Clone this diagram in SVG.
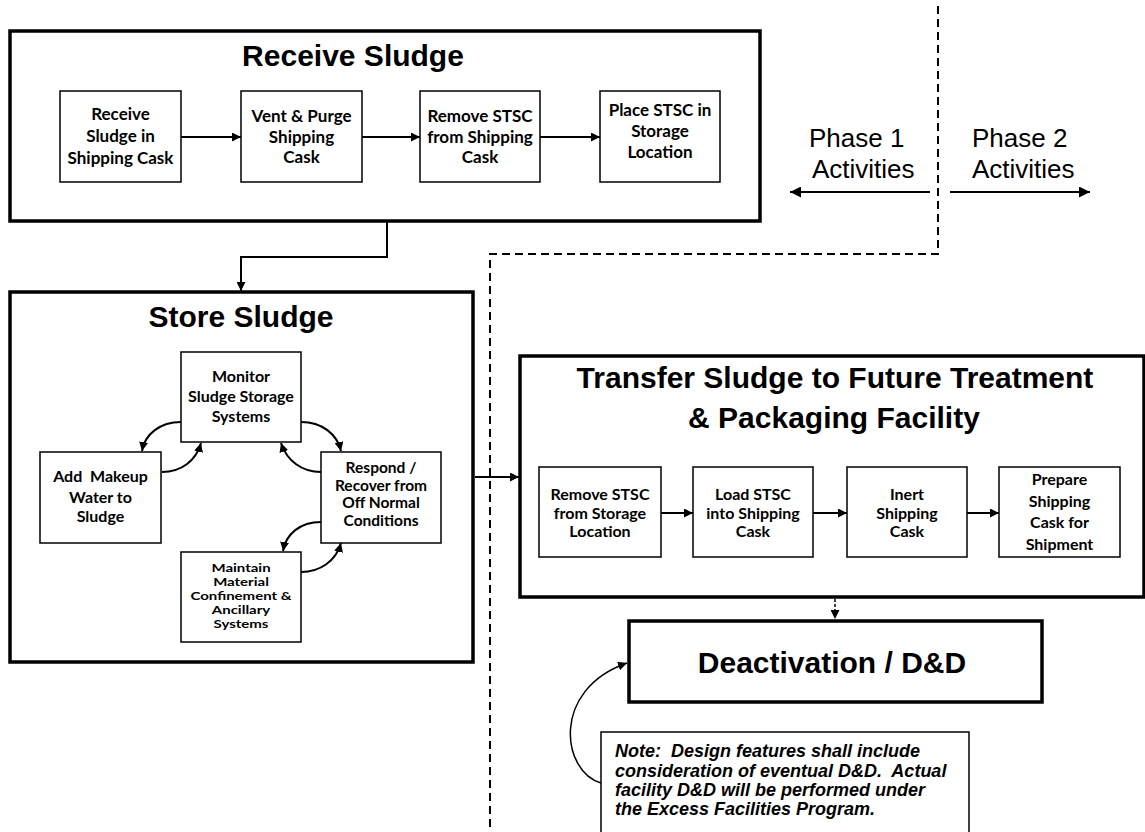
<svg xmlns="http://www.w3.org/2000/svg" width="1145" height="832" viewBox="0 0 1145 832">
<defs>
<style>
.outer{fill:#fff;stroke:#000;stroke-width:3.5}
.inner{fill:#fff;stroke:#000;stroke-width:1.5}
.title{font-family:"Liberation Sans",Arial,sans-serif;font-weight:700;font-size:30px;fill:#000;text-anchor:middle}
.lbl{font-family:Lato,"Liberation Sans",sans-serif;font-weight:700;font-size:17px;fill:#000;text-anchor:middle}
.s16{font-size:16px}
.s155{font-size:15.5px}
.s14{font-size:15px}
.phase{font-family:"Liberation Sans",Arial,sans-serif;font-size:26px;fill:#000}
.note{font-family:"Liberation Sans",Arial,sans-serif;font-weight:700;font-style:italic;font-size:18px;fill:#000}
.conn{fill:none;stroke:#000;stroke-width:2}
.dash{fill:none;stroke:#000;stroke-width:2;stroke-dasharray:8 5}
.dot{fill:none;stroke:#000;stroke-width:1.5;stroke-dasharray:3 2}
</style>
<marker id="ah" viewBox="0 0 10 10" refX="10" refY="5" markerUnits="userSpaceOnUse" markerWidth="9" markerHeight="9" orient="auto">
<path d="M0,0 L10,5 L0,10 z" fill="#000"/>
</marker>
<marker id="ahl" viewBox="0 0 10 10" refX="10" refY="5" markerUnits="userSpaceOnUse" markerWidth="11" markerHeight="11" orient="auto">
<path d="M0,0 L10,5 L0,10 z" fill="#000"/>
</marker>
</defs>
<rect width="1145" height="832" fill="#fff"/>

<g id="phase-boundary">
<path class="dash" d="M938,6 V254 H490 V832"/>
</g>

<g id="receive-sludge">
<rect class="outer" x="10" y="31" width="750" height="190"/>
<text class="title" x="353" y="66">Receive Sludge</text>
</g>
<g id="r1"><rect class="inner" x="60" y="91" width="121" height="91"/>
<text class="lbl" x="120.5" y="120">Receive</text><text class="lbl" x="120.5" y="142">Sludge in</text><text class="lbl" x="120.5" y="164">Shipping Cask</text></g>
<g id="r2"><rect class="inner" x="241" y="91" width="121" height="91"/>
<text class="lbl" x="301.5" y="122">Vent &amp; Purge</text><text class="lbl" x="301.5" y="143">Shipping</text><text class="lbl" x="301.5" y="163">Cask</text></g>
<g id="r3"><rect class="inner" x="420" y="91" width="120" height="91"/>
<text class="lbl" x="480" y="122">Remove STSC</text><text class="lbl" x="480" y="143">from Shipping</text><text class="lbl" x="480" y="163">Cask</text></g>
<g id="r4"><rect class="inner" x="600" y="91" width="120" height="91"/>
<text class="lbl" x="660" y="116">Place STSC in</text><text class="lbl" x="660" y="137">Storage</text><text class="lbl" x="660" y="158">Location</text></g>

<g id="store-sludge">
<rect class="outer" x="10" y="292" width="463" height="370"/>
<text class="title" x="241" y="327">Store Sludge</text>
</g>
<g id="s-monitor"><rect class="inner" x="181" y="352" width="120" height="90"/>
<text class="lbl s16" x="241" y="382">Monitor</text><text class="lbl s16" x="241" y="402">Sludge Storage</text><text class="lbl s16" x="241" y="422">Systems</text></g>
<g id="s-add"><rect class="inner" x="40" y="452" width="121" height="91"/>
<text class="lbl s16" x="100.5" y="482" xml:space="preserve">Add  Makeup</text><text class="lbl s16" x="100.5" y="503">Water to</text><text class="lbl s16" x="100.5" y="522">Sludge</text></g>
<g id="s-respond"><rect class="inner" x="321" y="452" width="120" height="91"/>
<text class="lbl s155" x="381" y="473">Respond /</text><text class="lbl s155" x="381" y="491">Recover from</text><text class="lbl s155" x="381" y="508">Off Normal</text><text class="lbl s155" x="381" y="526">Conditions</text></g>
<g id="s-maintain"><rect class="inner" x="181" y="552" width="120" height="90"/>
<g transform="translate(241,600) scale(1,0.76)">
<text class="lbl s14" x="0" y="-36.8">Maintain</text><text class="lbl s14" x="0" y="-18.4">Material</text><text class="lbl s14" x="0" y="0">Confinement &amp;</text><text class="lbl s14" x="0" y="18.4">Ancillary</text><text class="lbl s14" x="0" y="36.8">Systems</text>
</g></g>

<g id="transfer-sludge">
<rect class="outer" x="520" y="356" width="624" height="241"/>
<text class="title" x="835" y="388">Transfer Sludge to Future Treatment</text>
<text class="title" x="834" y="428">&amp; Packaging Facility</text>
</g>
<g id="t1"><rect class="inner" x="539" y="467" width="122" height="90"/>
<text class="lbl s16" x="600" y="500">Remove STSC</text><text class="lbl s16" x="600" y="519">from Storage</text><text class="lbl s16" x="600" y="537">Location</text></g>
<g id="t2"><rect class="inner" x="693" y="467" width="120" height="90"/>
<text class="lbl s16" x="753" y="500">Load STSC</text><text class="lbl s16" x="753" y="519">into Shipping</text><text class="lbl s16" x="753" y="537">Cask</text></g>
<g id="t3"><rect class="inner" x="847" y="467" width="120" height="90"/>
<text class="lbl s16" x="907" y="500">Inert</text><text class="lbl s16" x="907" y="519">Shipping</text><text class="lbl s16" x="907" y="537">Cask</text></g>
<g id="t4"><rect class="inner" x="999" y="467" width="121" height="90"/>
<text class="lbl s16" x="1059.5" y="485">Prepare</text><text class="lbl s16" x="1059.5" y="507">Shipping</text><text class="lbl s16" x="1059.5" y="528">Cask for</text><text class="lbl s16" x="1059.5" y="550">Shipment</text></g>

<g id="deactivation">
<rect class="outer" x="629" y="621" width="413" height="81"/>
<text class="title" x="832" y="673">Deactivation / D&amp;D</text>
</g>

<g id="note">
<rect fill="#fff" stroke="#000" stroke-width="1.5" x="601" y="732" width="368" height="110"/>
<text class="note" x="615" y="757" xml:space="preserve">Note:  Design features shall include</text>
<text class="note" x="615" y="777" xml:space="preserve">consideration of eventual D&amp;D.  Actual</text>
<text class="note" x="615" y="796">facility D&amp;D will be performed under</text>
<text class="note" x="615" y="815">the Excess Facilities Program.</text>
</g>

<g id="phase-labels">
<text class="phase" x="809" y="147">Phase 1</text>
<text class="phase" x="812" y="178">Activities</text>
<text class="phase" x="972" y="147">Phase 2</text>
<text class="phase" x="972" y="178">Activities</text>
</g>

<g id="connectors">
<path class="conn" d="M930,192 H790" marker-end="url(#ahl)"/>
<path class="conn" d="M950,192 H1090" marker-end="url(#ahl)"/>
<path class="conn" d="M181,137 H241" marker-end="url(#ah)"/>
<path class="conn" d="M362,137 H420" marker-end="url(#ah)"/>
<path class="conn" d="M540,137 H600" marker-end="url(#ah)"/>
<path class="conn" d="M387,222 V257 H241 V291" marker-end="url(#ah)"/>
<path class="conn" d="M181,422 C160,422 145,434 142,451" marker-end="url(#ah)"/>
<path class="conn" d="M162,472 C181,472 196,461 201,443" marker-end="url(#ah)"/>
<path class="conn" d="M301,422 C322,422 337,434 341,451" marker-end="url(#ah)"/>
<path class="conn" d="M321,472 C302,472 287,461 281,443" marker-end="url(#ah)"/>
<path class="conn" d="M321,522 C300,522 286,534 283,551" marker-end="url(#ah)"/>
<path class="conn" d="M301,572 C320,572 336,561 341,543" marker-end="url(#ah)"/>
<path class="conn" d="M475,477 H519" marker-end="url(#ah)"/>
<path class="conn" d="M661,513 H693" marker-end="url(#ah)"/>
<path class="conn" d="M813,513 H847" marker-end="url(#ah)"/>
<path class="conn" d="M967,513 H999" marker-end="url(#ah)"/>
<path class="dot" d="M835,599 V619" marker-end="url(#ah)"/>
<path class="conn" style="stroke-width:1.5" d="M601,783 C562,772 550,690 627,663" marker-end="url(#ah)"/>
</g>
</svg>
